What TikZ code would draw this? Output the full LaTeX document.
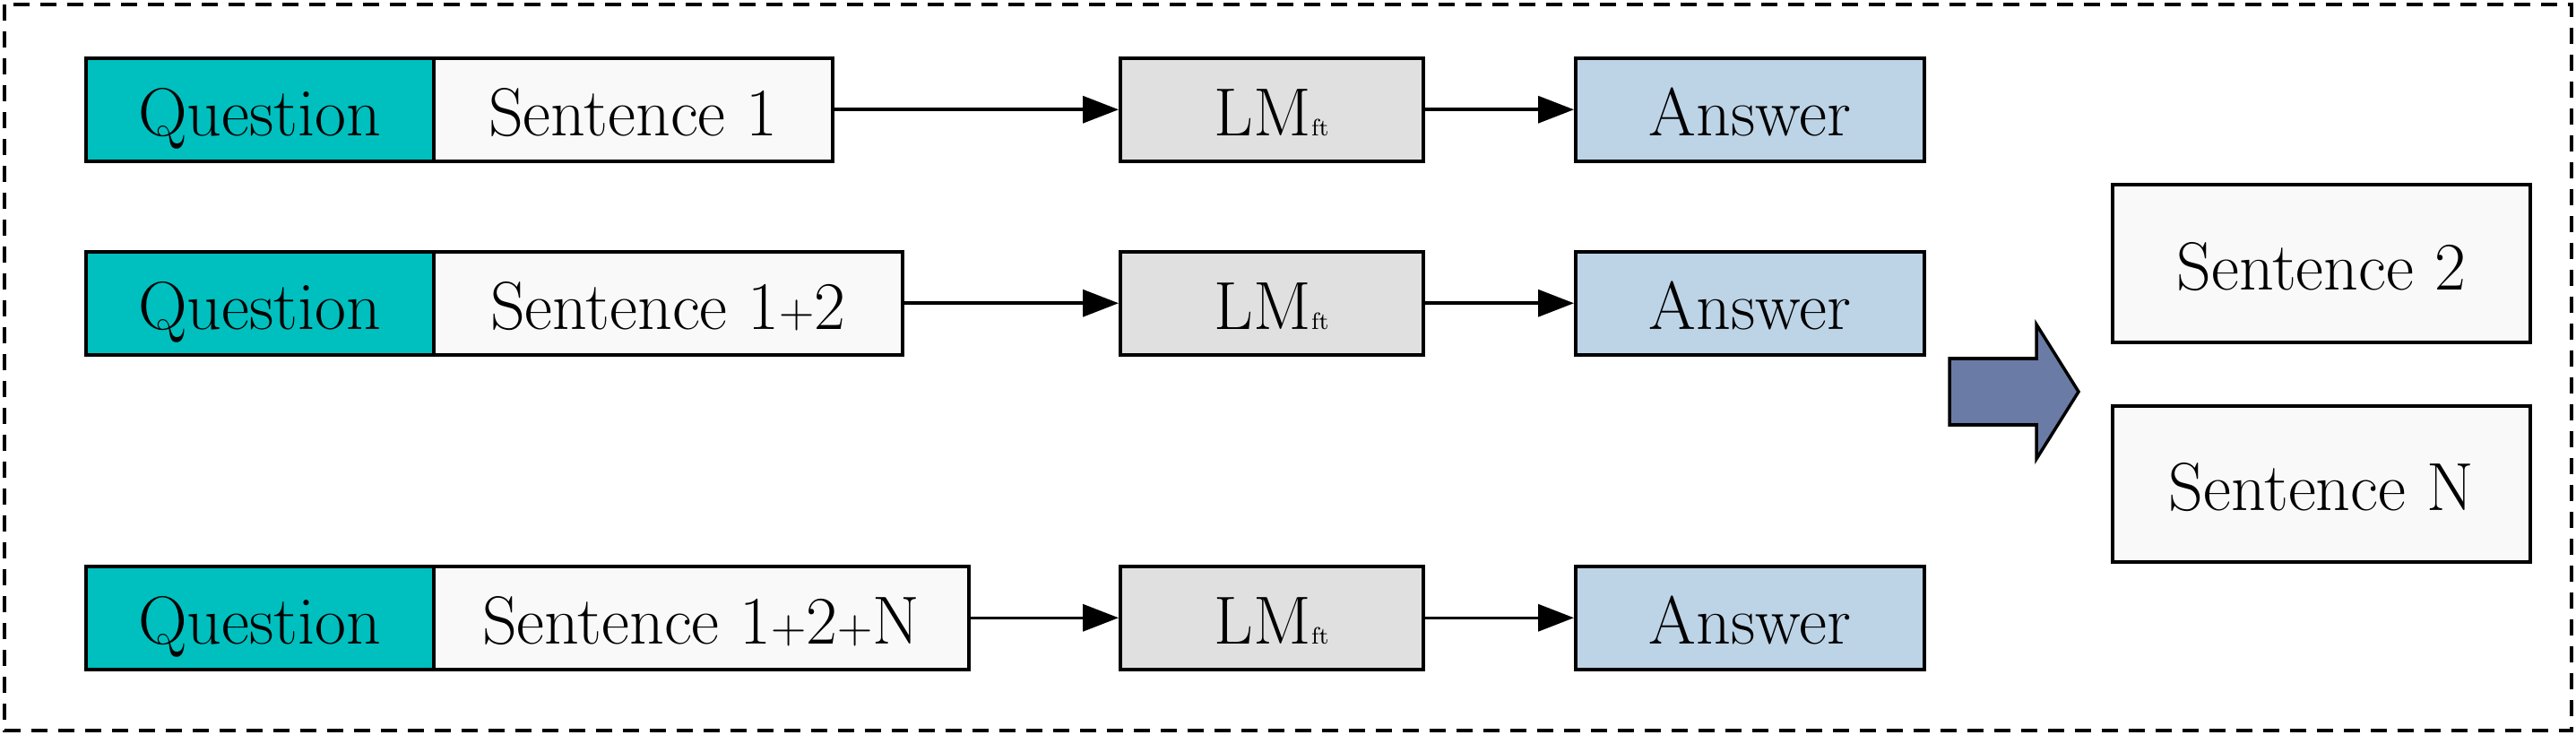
\documentclass[tikz,border=0pt]{standalone}
\usetikzlibrary{arrows.meta}
\definecolor{qteal}{HTML}{00BFBF}
\definecolor{sfill}{HTML}{F9F9F9}
\definecolor{lmfill}{HTML}{E0E0E0}
\definecolor{afill}{HTML}{BDD4E7}
\definecolor{bigarrow}{HTML}{6A7BA5}
\newcommand{\lmft}{LM{\fontsize{7.5}{9}\selectfont ft}}
\newcommand{\pl}{\raisebox{0.5pt}{\fontsize{15.5}{15.5}\selectfont +}}
\tikzset{
  basebox/.style={draw=black, line width=1pt, inner sep=0pt, anchor=north west,
    minimum height=1.15cm, text height=0.59cm, text depth=0cm,
    font=\fontsize{21.6}{26}\selectfont},
  qbox/.style={basebox, fill=qteal, minimum width=3.88cm},
  sbox/.style={basebox, fill=sfill},
  lmbox/.style={basebox, fill=lmfill, minimum width=3.38cm},
  abox/.style={basebox, fill=afill, minimum width=3.89cm},
  conn/.style={-{Triangle[length=0.4cm,width=0.3cm]}, line width=1pt},
}
\begin{document}
\begin{tikzpicture}
\useasboundingbox (0,0) rectangle (28.74,-8.2);
\draw[line width=1pt, dash pattern=on 0.18cm off 0.12cm] (0.05,-0.05) rectangle (28.69,-8.15);
% row 1
\node[qbox] (q1) at (0.94,-0.63) {Question};
\node[sbox, minimum width=4.45cm] (s1) at (4.82,-0.63) {Sentence 1};
\node[lmbox] (lm1) at (12.48,-0.63) {\lmft};
\node[abox] (a1) at (17.56,-0.63) {Answer};
% row 2
\node[qbox] (q2) at (0.94,-2.79) {Question};
\node[sbox, minimum width=5.23cm] (s2) at (4.82,-2.79) {Sentence 1\pl2};
\node[lmbox] (lm2) at (12.48,-2.79) {\lmft};
\node[abox] (a2) at (17.56,-2.79) {Answer};
% row 3
\node[qbox] (q3) at (0.94,-6.30) {Question};
\node[sbox, minimum width=5.97cm] (s3) at (4.82,-6.30) {Sentence 1\pl2\pl N};
\node[lmbox] (lm3) at (12.48,-6.30) {\lmft};
\node[abox] (a3) at (17.56,-6.30) {Answer};
% right boxes
\node[sbox, minimum width=4.66cm, minimum height=1.76cm] (sent2) at (23.55,-2.04) {Sentence 2};
\node[sbox, minimum width=4.66cm, minimum height=1.74cm] (sentN) at (23.55,-4.51) {Sentence N};
% connectors
\draw[conn] (s1) -- (lm1);
\draw[conn] (lm1) -- (a1);
\draw[conn] (s2) -- (lm2);
\draw[conn] (lm2) -- (a2);
\draw[conn] (s3) -- (lm3);
\draw[conn] (lm3) -- (a3);
% big arrow
\draw[fill=bigarrow, line width=1pt, line join=miter]
  (21.75,-4.00) -- (22.72,-4.00) -- (22.72,-3.62) -- (23.19,-4.37)
  -- (22.72,-5.12) -- (22.72,-4.74) -- (21.75,-4.74) -- cycle;
\end{tikzpicture}
\end{document}
